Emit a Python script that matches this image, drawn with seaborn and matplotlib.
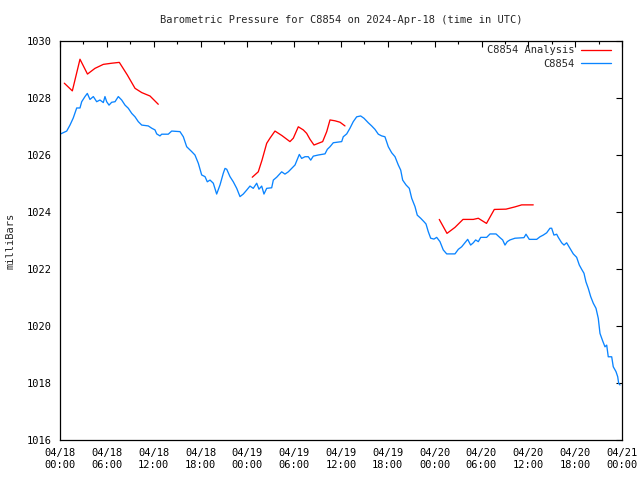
import matplotlib
matplotlib.use("Agg")
import matplotlib.pyplot as plt
import seaborn as sns
import pandas as pd
from matplotlib.ticker import MultipleLocator, FixedLocator

# ---- data (hours since 2024-04-18 00:00 UTC, pressure in mb) ----
blue_t = [0.00,0.86,1.28,1.70,2.14,2.56,2.78,3.20,3.50,3.84,
          4.27,4.70,5.12,5.55,5.76,5.98,6.28,6.62,7.05,7.47,
          7.90,8.33,8.75,9.19,9.61,10.03,10.47,11.31,11.75,12.17,
          12.39,12.81,13.03,13.87,14.31,15.37,15.80,16.23,16.87,17.29,
          17.72,18.15,18.58,18.87,19.22,19.64,20.07,20.50,20.92,21.14,
          21.36,21.78,22.20,22.64,23.06,23.48,23.92,24.34,24.76,25.20,
          25.49,25.84,26.13,26.48,27.12,27.33,27.76,28.40,28.82,29.25,
          29.68,30.11,30.40,30.66,30.96,31.39,31.81,32.12,32.45,33.09,
          33.95,34.25,34.59,35.01,36.09,36.29,36.73,37.15,37.57,38.01,
          38.52,38.94,39.50,39.93,40.35,40.78,41.21,41.63,42.06,42.49,
          42.92,43.34,43.65,43.90,44.33,44.75,45.06,45.48,45.77,46.21,
          46.63,46.89,47.18,47.49,47.91,48.26,48.68,49.10,49.54,50.60,
          51.03,51.46,51.88,52.23,52.61,52.95,53.25,53.59,53.90,54.66,
          55.09,55.86,56.37,56.71,57.01,57.30,57.65,58.29,59.44,59.70,
          60.12,61.07,61.49,61.91,62.35,62.77,62.99,63.28,63.63,63.84,
          64.27,64.57,64.91,65.33,65.76,66.19,66.53,66.83,67.13,67.38,
          67.68,67.99,68.32,68.67,68.96,69.18,69.52,69.82,70.04,70.24,
          70.68,70.88,71.23,71.45,71.57,71.74]
blue_v = [1026.73,1026.84,1027.05,1027.30,1027.65,1027.65,1027.87,1028.05,1028.16,1027.95,
          1028.05,1027.87,1027.93,1027.84,1028.05,1027.87,1027.75,1027.85,1027.87,1028.05,
          1027.93,1027.75,1027.64,1027.46,1027.34,1027.17,1027.05,1027.02,1026.94,1026.88,
          1026.74,1026.67,1026.73,1026.73,1026.84,1026.82,1026.64,1026.29,1026.12,1026.00,
          1025.71,1025.30,1025.24,1025.06,1025.12,1025.01,1024.63,1024.95,1025.36,1025.53,
          1025.50,1025.24,1025.06,1024.83,1024.54,1024.63,1024.77,1024.91,1024.83,1025.01,
          1024.80,1024.91,1024.63,1024.83,1024.85,1025.12,1025.22,1025.41,1025.33,1025.41,
          1025.53,1025.65,1025.85,1026.02,1025.88,1025.94,1025.94,1025.82,1025.96,1026.00,
          1026.04,1026.20,1026.29,1026.43,1026.47,1026.64,1026.74,1026.94,1027.17,1027.34,
          1027.37,1027.29,1027.13,1027.02,1026.90,1026.73,1026.67,1026.64,1026.29,1026.08,
          1025.94,1025.65,1025.47,1025.12,1024.95,1024.83,1024.48,1024.19,1023.89,1023.78,
          1023.66,1023.58,1023.31,1023.08,1023.05,1023.11,1022.96,1022.67,1022.53,1022.53,
          1022.69,1022.78,1022.92,1023.04,1022.84,1022.92,1023.02,1022.96,1023.11,1023.11,
          1023.23,1023.23,1023.10,1023.02,1022.84,1022.96,1023.02,1023.08,1023.10,1023.22,
          1023.04,1023.04,1023.13,1023.19,1023.27,1023.43,1023.43,1023.19,1023.22,1023.11,
          1022.92,1022.84,1022.92,1022.73,1022.53,1022.41,1022.14,1021.99,1021.85,1021.55,
          1021.32,1021.03,1020.80,1020.62,1020.27,1019.74,1019.48,1019.27,1019.33,1018.92,
          1018.92,1018.57,1018.40,1018.22,1017.99,1017.93]

ana1_t = [0.55,1.58,2.56,3.52,4.48,5.55,6.62,7.60,8.62,9.61,10.47,11.53,12.59]
ana1_v = [1028.52,1028.25,1029.36,1028.84,1029.04,1029.18,1029.22,1029.25,1028.81,1028.34,1028.19,1028.07,1027.78]
ana2_t = [24.63,25.40,25.88,26.48,26.90,27.54,28.44,29.46,29.89,30.53,31.17,31.60,32.03,32.54,33.09,33.65,34.17,34.59,35.23,35.87,36.51]
ana2_v = [1025.22,1025.41,1025.82,1026.41,1026.59,1026.84,1026.68,1026.47,1026.59,1026.99,1026.88,1026.76,1026.55,1026.35,1026.41,1026.47,1026.82,1027.23,1027.20,1027.15,1027.02]
ana3_t = [48.59,49.58,50.60,51.63,52.95,53.59,54.64,55.64,57.14,58.29,59.15,60.63]
ana3_v = [1023.74,1023.25,1023.46,1023.74,1023.74,1023.78,1023.60,1024.09,1024.10,1024.18,1024.25,1024.25]

x_tick_hours = [0, 6, 12, 18, 24, 30, 36, 42, 48, 54, 60, 66, 72]
x_tick_labels = ["04/18\n00:00", "04/18\n06:00", "04/18\n12:00", "04/18\n18:00",
                 "04/19\n00:00", "04/19\n06:00", "04/19\n12:00", "04/19\n18:00",
                 "04/20\n00:00", "04/20\n06:00", "04/20\n12:00", "04/20\n18:00",
                 "04/21\n00:00"]
y_ticks = [1016, 1018, 1020, 1022, 1024, 1026, 1028, 1030]

title = "Barometric Pressure for C8854 on 2024-Apr-18 (time in UTC)"
ylabel = "milliBars"
label_ana = "C8854 Analysis"
label_obs = "C8854"

# ---- frames ----
df_obs = pd.DataFrame({"hour": blue_t, "mb": blue_v})
df_ana = pd.concat([
    pd.DataFrame({"hour": ana1_t, "mb": ana1_v, "seg": 1}),
    pd.DataFrame({"hour": ana2_t, "mb": ana2_v, "seg": 2}),
    pd.DataFrame({"hour": ana3_t, "mb": ana3_v, "seg": 3}),
], ignore_index=True)

sns.set_theme(style="white")
plt.rcParams["font.family"] = ["DejaVu Sans Mono", "DejaVu Sans"]
plt.rcParams["font.size"] = 7.5

RED = "#ff0000"
BLUE = "#0a84ff"

fig = plt.figure(figsize=(6.4, 4.8), dpi=100)
ax = fig.add_axes([60/640, 1 - 440/480, 562/640, 399/480])

sns.lineplot(data=df_ana, x="hour", y="mb", units="seg", estimator=None,
             color=RED, linewidth=0.95, sort=False, ax=ax, legend=False)
n_red = len(ax.get_lines())
sns.lineplot(data=df_obs, x="hour", y="mb", color=BLUE, linewidth=0.95,
             sort=False, ax=ax, legend=False)
lines = ax.get_lines()
red_line = lines[0]
blue_line = lines[n_red]

ax.set_xlim(0, 72)
ax.set_ylim(1016, 1030)
ax.xaxis.set_major_locator(FixedLocator(x_tick_hours))
ax.set_xticklabels(x_tick_labels)
ax.xaxis.set_minor_locator(MultipleLocator(3))
ax.set_yticks(y_ticks)
ax.set_yticklabels([str(v) for v in y_ticks])

ax.tick_params(axis="both", which="both", direction="in", top=True, right=True,
               colors="black", labelsize=7.5, width=0.8)
ax.tick_params(axis="both", which="major", length=4.5)
ax.tick_params(axis="x", which="minor", length=2.5)
ax.tick_params(axis="x", which="major", pad=6)
ax.tick_params(axis="y", which="major", pad=6)
for s in ax.spines.values():
    s.set_color("black")
    s.set_linewidth(0.9)
    s.set_visible(True)

ax.set_xlabel("")
ax.set_ylabel(ylabel, fontsize=7.5, labelpad=8)
ax.set_title(title, fontsize=7.5, pad=13)

leg = ax.legend([red_line, blue_line], [label_ana, label_obs], loc="upper right",
                bbox_to_anchor=(1 - 7/562, 1.0),
                frameon=False, markerfirst=False, fontsize=7.5, handlelength=2.9,
                handletextpad=0.6, labelspacing=0.35, borderaxespad=0.2,
                borderpad=0.2)

fig.savefig("out.png", dpi=100)
